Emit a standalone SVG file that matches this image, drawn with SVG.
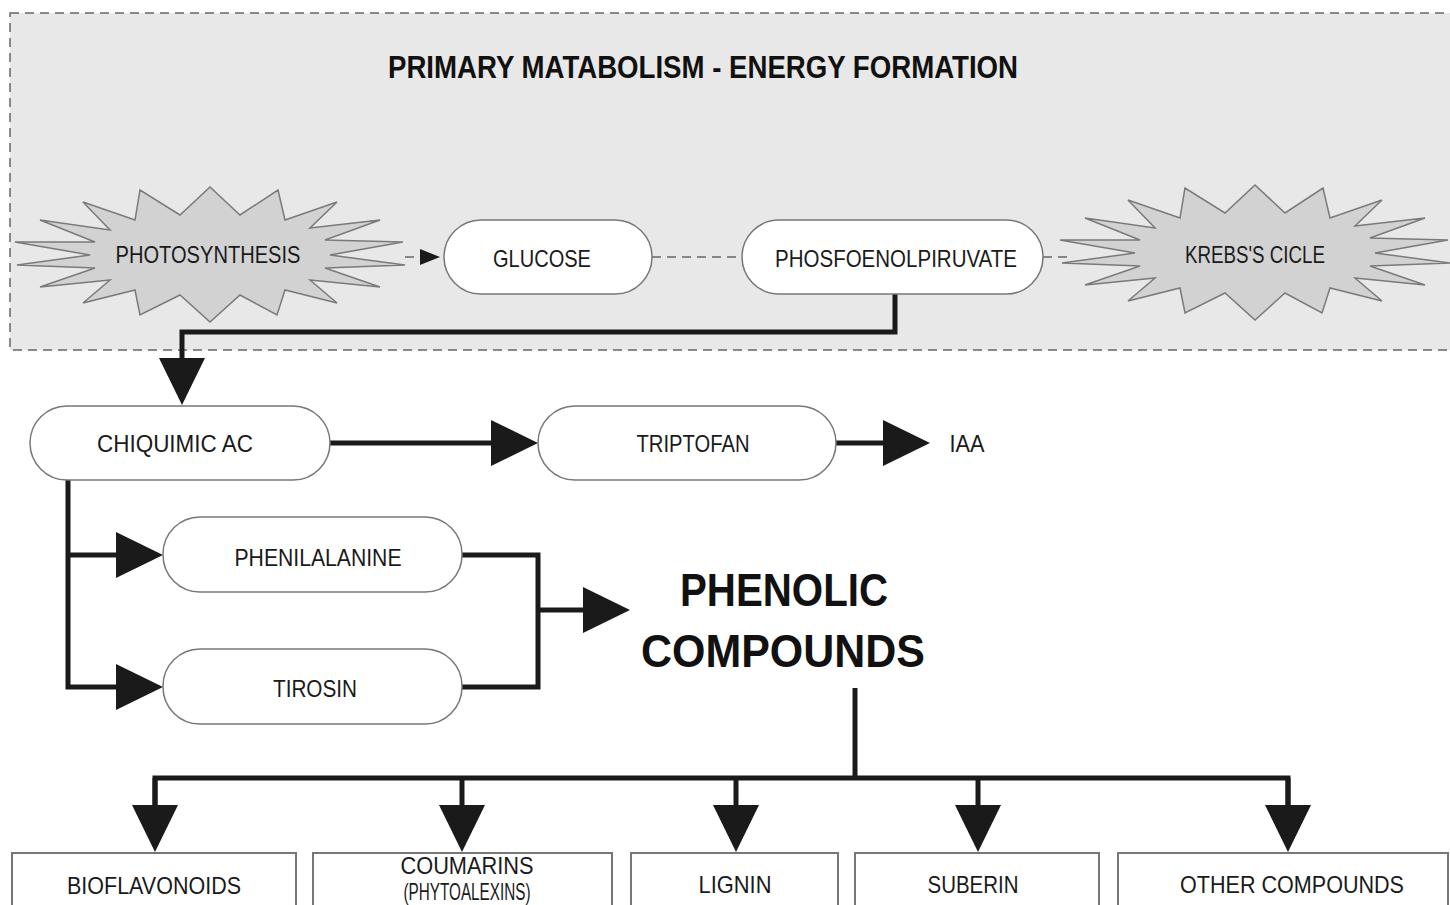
<svg xmlns="http://www.w3.org/2000/svg" width="1450" height="905" viewBox="0 0 1450 905">
<style>
.lbl{font-family:"Liberation Sans",Arial,sans-serif;font-size:24px;fill:#1a1a1a;text-anchor:middle}
.pill{fill:#fff;stroke:#777;stroke-width:1.5}
.box{fill:#fff;stroke:#777;stroke-width:2}
.star{fill:#d2d2d2;stroke:#7a7a7a;stroke-width:1.5}
.thick{fill:none;stroke:#1a1a1a;stroke-width:5}
.dash{fill:none;stroke:#666;stroke-width:1.5;stroke-dasharray:9 6}
.bold{font-family:"Liberation Sans",Arial,sans-serif;font-weight:bold;fill:#111;text-anchor:middle}
</style>
<defs>
<marker id="big" markerUnits="userSpaceOnUse" markerWidth="48" markerHeight="48" refX="0" refY="23" orient="auto">
<path d="M0,0 L47,23 L0,46 z" fill="#1a1a1a"/>
</marker>
<marker id="small" markerUnits="userSpaceOnUse" markerWidth="22" markerHeight="18" refX="0" refY="9" orient="auto">
<path d="M0,1 L20,9 L0,17 z" fill="#1a1a1a"/>
</marker>
<polygon id="starshape" class="star" points="0,-68 30,-40 68,-65 75,-35 127,-53 100,-27 170,-35 115,-15 193,-13 120,0 195,10 115,13 170,32 100,25 127,48 75,35 67,60 30,40 0,67 -30,40 -70,60 -75,35 -127,48 -100,25 -170,32 -115,13 -193,10 -120,0 -195,-13 -115,-13 -170,-35 -100,-25 -127,-53 -75,-35 -70,-65 -30,-40"/>
</defs>
<rect width="1450" height="905" fill="#fff"/>
<g id="primary-region">
<rect x="10" y="13" width="1450" height="337" fill="#e8e8e8" stroke="#666" stroke-width="1.5" stroke-dasharray="9 6"/>
<text class="bold" x="703" y="78" font-size="32" textLength="630" lengthAdjust="spacingAndGlyphs">PRIMARY MATABOLISM - ENERGY FORMATION</text>
</g>
<g id="connectors">
<line class="dash" x1="405" y1="257" x2="420" y2="257" marker-end="url(#small)"/>
<line class="dash" x1="652" y1="257" x2="742" y2="257"/>
<line class="dash" x1="1043" y1="257" x2="1070" y2="257"/>
<path class="thick" d="M895,294 V332 H182 V358" marker-end="url(#big)"/>
<line class="thick" x1="330" y1="443" x2="491" y2="443" marker-end="url(#big)"/>
<line class="thick" x1="836" y1="443" x2="883" y2="443" marker-end="url(#big)"/>
<path class="thick" d="M68,480 V687 H116" marker-end="url(#big)"/>
<line class="thick" x1="68" y1="555" x2="116" y2="555" marker-end="url(#big)"/>
<path class="thick" d="M462,555 H538 V687 H462"/>
<line class="thick" x1="538" y1="610" x2="583" y2="610" marker-end="url(#big)"/>
<path class="thick" d="M855,688 V778"/>
<path class="thick" d="M155,805 V778 H1288 V805"/>
<line class="thick" x1="462" y1="778" x2="462" y2="805" marker-end="url(#big)"/>
<line class="thick" x1="736" y1="778" x2="736" y2="805" marker-end="url(#big)"/>
<line class="thick" x1="978" y1="778" x2="978" y2="805" marker-end="url(#big)"/>
<line class="thick" x1="155" y1="778" x2="155" y2="805" marker-end="url(#big)"/>
<line class="thick" x1="1288" y1="778" x2="1288" y2="805" marker-end="url(#big)"/>
</g>
<g id="photosynthesis">
<use href="#starshape" x="210" y="255"/>
<text class="lbl" x="208" y="263" textLength="185" lengthAdjust="spacingAndGlyphs">PHOTOSYNTHESIS</text>
</g>
<g id="krebs">
<use href="#starshape" x="1255" y="253"/>
<text class="lbl" x="1255" y="263" textLength="140" lengthAdjust="spacingAndGlyphs">KREBS'S CICLE</text>
</g>
<g id="glucose">
<rect class="pill" x="444" y="220" width="208" height="74" rx="37"/>
<text class="lbl" x="542" y="267" textLength="98" lengthAdjust="spacingAndGlyphs">GLUCOSE</text>
</g>
<g id="pep">
<rect class="pill" x="742" y="220" width="301" height="74" rx="37"/>
<text class="lbl" x="896" y="267" textLength="242" lengthAdjust="spacingAndGlyphs">PHOSFOENOLPIRUVATE</text>
</g>
<g id="chiquimic">
<rect class="pill" x="30" y="406" width="300" height="74" rx="37"/>
<text class="lbl" x="175" y="452" textLength="156" lengthAdjust="spacingAndGlyphs">CHIQUIMIC AC</text>
</g>
<g id="triptofan">
<rect class="pill" x="538" y="406" width="298" height="74" rx="37"/>
<text class="lbl" x="693" y="452" textLength="113" lengthAdjust="spacingAndGlyphs">TRIPTOFAN</text>
</g>
<g id="iaa">
<text class="lbl" x="967" y="452" textLength="35" lengthAdjust="spacingAndGlyphs">IAA</text>
</g>
<g id="phenilalanine">
<rect class="pill" x="163" y="517" width="299" height="75" rx="37"/>
<text class="lbl" x="318" y="566" textLength="167" lengthAdjust="spacingAndGlyphs">PHENILALANINE</text>
</g>
<g id="tirosin">
<rect class="pill" x="163" y="649" width="299" height="75" rx="37"/>
<text class="lbl" x="315" y="697" textLength="84" lengthAdjust="spacingAndGlyphs">TIROSIN</text>
</g>
<g id="phenolic">
<text class="bold" x="784" y="606" font-size="46" textLength="208" lengthAdjust="spacingAndGlyphs">PHENOLIC</text>
<text class="bold" x="783" y="667" font-size="46" textLength="284" lengthAdjust="spacingAndGlyphs">COMPOUNDS</text>
</g>
<g id="bioflavonoids">
<rect class="box" x="12" y="853" width="284" height="70"/>
<text class="lbl" x="154" y="894" textLength="174" lengthAdjust="spacingAndGlyphs">BIOFLAVONOIDS</text>
</g>
<g id="coumarins">
<rect class="box" x="313" y="853" width="299" height="70"/>
<text class="lbl" x="467" y="874" font-size="20" textLength="133" lengthAdjust="spacingAndGlyphs">COUMARINS</text>
<text class="lbl" x="467" y="900" font-size="12" textLength="127" lengthAdjust="spacingAndGlyphs">(PHYTOALEXINS)</text>
</g>
<g id="lignin">
<rect class="box" x="631" y="853" width="207" height="70"/>
<text class="lbl" x="735" y="893" textLength="73" lengthAdjust="spacingAndGlyphs">LIGNIN</text>
</g>
<g id="suberin">
<rect class="box" x="855" y="853" width="244" height="70"/>
<text class="lbl" x="973" y="893" textLength="91" lengthAdjust="spacingAndGlyphs">SUBERIN</text>
</g>
<g id="other">
<rect class="box" x="1118" y="853" width="330" height="70"/>
<text class="lbl" x="1292" y="893" textLength="224" lengthAdjust="spacingAndGlyphs">OTHER COMPOUNDS</text>
</g>
</svg>
